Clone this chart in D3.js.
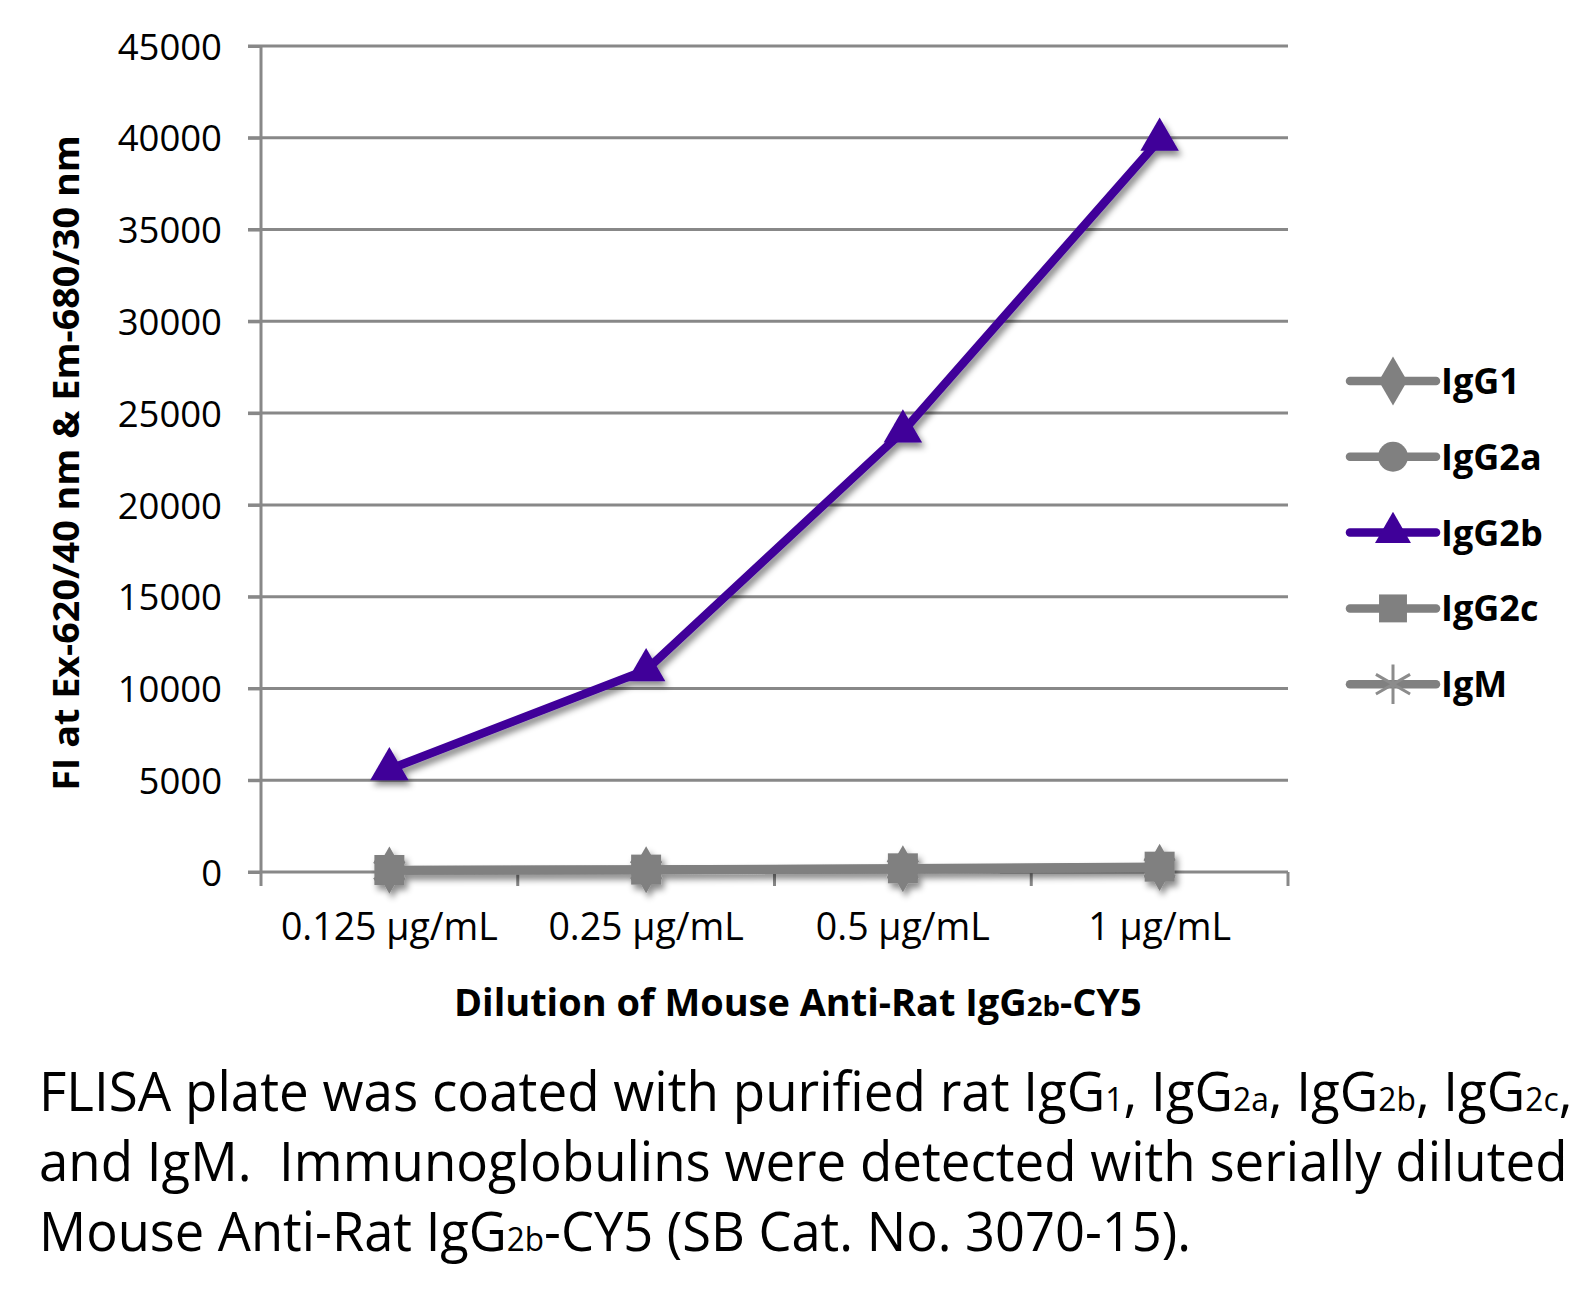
<!DOCTYPE html>
<html><head><meta charset="utf-8">
<script src="https://cdn.jsdelivr.net/npm/d3@7"></script>
<style>
html,body{margin:0;padding:0;background:#fff;}
svg{display:block;font-family:"Open Sans",sans-serif;}
</style></head>
<body><svg id="c" width="1596" height="1306"></svg>
<script>
// ---- data ----
const categories = ["0.125 µg/mL", "0.25 µg/mL", "0.5 µg/mL", "1 µg/mL"];
const seriesNames = ["IgG1", "IgG2a", "IgG2b", "IgG2c", "IgM"];
const IgG1  = [100, 120, 180, 250];
const IgG2a = [90, 110, 170, 240];
const IgG2b = [5600, 11000, 24000, 39900];
const IgG2c = [110, 130, 200, 290];
const IgM   = [80, 100, 150, 220];
const yTicks = [0, 5000, 10000, 15000, 20000, 25000, 30000, 35000, 40000, 45000];
const yTitle = "FI at Ex-620/40 nm & Em-680/30 nm";
const captionLines = [
  [["FLISA plate was coated with purified rat IgG",0],["1",1],[", IgG",0],["2a",1],[", IgG",0],["2b",1],[", IgG",0],["2c",1],[",",0]],
  [["and IgM.  Immunoglobulins were detected with serially diluted",0]],
  [["Mouse Anti-Rat IgG",0],["2b",1],["-CY5 (SB Cat. No. 3070-15).",0]]
];

const seriesData = [IgG1, IgG2a, IgG2b, IgG2c, IgM];
const colors = {IgG1:"#808080", IgG2a:"#808080", IgG2b:"#3F0099", IgG2c:"#808080", IgM:"#808080"};
const symbols = {IgG1:d3.symbolDiamond, IgG2a:d3.symbolCircle, IgG2b:d3.symbolTriangle, IgG2c:d3.symbolSquare, IgM:d3.symbolAsterisk};

const svg = d3.select("#c");
const defs = svg.append("defs");
const f = defs.append("filter").attr("id","sh").attr("x","-50%").attr("y","-50%").attr("width","200%").attr("height","200%");
f.append("feDropShadow").attr("dx",3).attr("dy",5).attr("stdDeviation",3).attr("flood-color","#000").attr("flood-opacity",0.45);

// scale a text horizontally so that its width equals target
function fitText(sel, tx, ty, target, rot) {
  const n = sel.node().getComputedTextLength();
  const s = target / n;
  sel.attr("transform", `translate(${tx},${ty})${rot ? ` rotate(${rot})` : ""} scale(${s},1)`);
}

const L = 261, R = 1288, T = 46, B = 872;
const x = d3.scaleBand().domain(categories).range([L, R]).paddingInner(0).paddingOuter(0);
const y = d3.scaleLinear().domain([0, 45000]).range([B, T]);
const gridColor = "#888888";

// gridlines
svg.append("g").selectAll("line").data(yTicks).join("line")
  .attr("x1", L - 13).attr("x2", R).attr("y1", d => y(d)).attr("y2", d => y(d))
  .attr("stroke", gridColor).attr("stroke-width", 3);

// y axis
const ya = svg.append("g").attr("transform", `translate(${L},0)`)
  .call(d3.axisLeft(y).tickValues(yTicks).tickSize(13).tickPadding(26).tickFormat(d3.format("d")));
ya.select(".domain").attr("stroke", gridColor).attr("stroke-width", 3).attr("d", `M0,${T}V${B}`);
ya.selectAll(".tick line").attr("stroke", gridColor).attr("stroke-width", 3);
ya.selectAll(".tick text").attr("font-size", 36.5).attr("fill", "#000").attr("font-family","Open Sans").attr("dy","0.36em");

// x axis
const xa = svg.append("g").attr("transform", `translate(0,${B})`)
  .call(d3.axisBottom(x).tickSize(0));
xa.select(".domain").remove();
xa.selectAll(".tick text").attr("font-size", 37.5).attr("fill", "#000").attr("font-family","Open Sans").attr("y", 68).attr("dy", 0);
const bounds = categories.map(c => x(c)).concat([R]);
svg.append("g").selectAll("line").data(bounds).join("line")
  .attr("x1", d => d).attr("x2", d => d).attr("y1", B).attr("y2", B + 14)
  .attr("stroke", gridColor).attr("stroke-width", 3);

// series
const line = d3.line().x((d, i) => x(categories[i]) + x.bandwidth() / 2).y(d => y(d));
const sg = svg.append("g").attr("filter", "url(#sh)");
seriesNames.forEach((name, si) => {
  const vals = seriesData[si];
  const g = sg.append("g");
  g.append("path").attr("d", line(vals)).attr("fill", "none")
    .attr("stroke", colors[name]).attr("stroke-width", 8.5).attr("stroke-linejoin", "round").attr("stroke-linecap","round");
  const isStroke = name === "IgM";
  g.selectAll("path.m").data(vals).join("path").attr("class", "m")
    .attr("transform", (d, i) => `translate(${x(categories[i]) + x.bandwidth() / 2},${y(d)})`)
    .attr("d", d3.symbol().type(symbols[name]).size(isStroke ? 900 : (name==="IgG2c"?900:(name==="IgG2b"?640:640)))())
    .attr("fill", isStroke ? "none" : colors[name])
    .attr("stroke", isStroke ? colors[name] : "none").attr("stroke-width", 3);
});

// y title
const yt = svg.append("text").attr("text-anchor", "middle").attr("font-size", 35)
  .attr("font-weight", "bold").attr("fill","#000").text(yTitle);
fitText(yt, 79, 463, 656, -90);

// x title
const xt = svg.append("text").attr("font-size", 37).attr("font-weight", "bold").attr("fill","#000");
xt.append("tspan").text("Dilution of Mouse Anti-Rat IgG");
xt.append("tspan").attr("font-size", 27).text("2b");
xt.append("tspan").text("-CY5");
fitText(xt, 454, 1016, 688);

// legend
const lg = svg.append("g");
seriesNames.forEach((name, i) => {
  const cy = 381 + i * 75.8;
  const row = lg.append("g").attr("transform", `translate(0,${cy})`);
  row.append("line").attr("x1", 1350).attr("x2", 1436).attr("stroke", colors[name]).attr("stroke-width", 8.5).attr("stroke-linecap","round");
  const isStroke = name === "IgM";
  row.append("path").attr("transform", "translate(1393,0)")
    .attr("d", d3.symbol().type(symbols[name]).size(isStroke ? 1100 : (name==="IgG2c"?780:(name==="IgG2b"?560:700)))())
    .attr("fill", isStroke ? "none" : colors[name]).attr("stroke", isStroke ? "#8c8c8c" : "none").attr("stroke-width", 3);
  row.append("text").attr("x", 1441).attr("dy", "0.36em").attr("font-size", 36).attr("font-weight", "bold").attr("fill","#000").text(name);
});

// caption
const capW = [1534, 1529, 1152];
captionLines.forEach((parts, li) => {
  const t = svg.append("text").attr("font-size", 55).attr("fill", "#000").style("white-space", "pre");
  parts.forEach(([s, sub]) => t.append("tspan").attr("font-size", sub ? 33 : 55).style("white-space", "pre").text(s));
  fitText(t, 39, 1111 + li * 70, capW[li]);
});
</script></body></html>
